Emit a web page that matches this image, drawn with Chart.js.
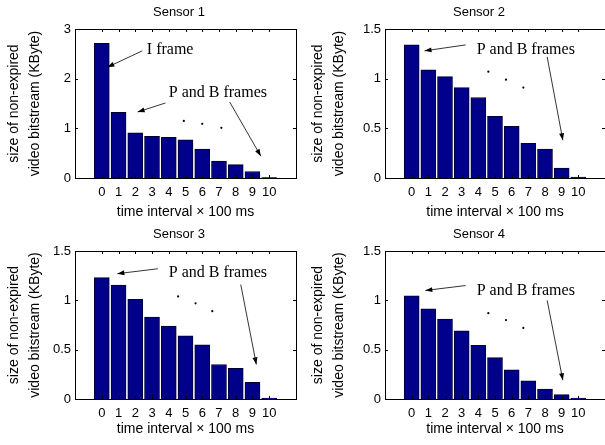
<!DOCTYPE html>
<html>
<head>
<meta charset="utf-8">
<script src="https://cdn.jsdelivr.net/npm/chart.js@4.4.0/dist/chart.umd.min.js"></script>
<style>
  html, body { margin: 0; padding: 0; background: #fff; overflow: hidden; }
  #wrap { position: relative; width: 605px; height: 445px; overflow: hidden; }
  canvas { position: absolute; }
</style>
</head>
<body>
<div id="wrap">
  <canvas id="s1" width="300" height="222" style="left:0px;top:0px"></canvas>
  <canvas id="s2" width="310" height="222" style="left:300px;top:0px"></canvas>
  <canvas id="s3" width="300" height="223" style="left:0px;top:222px"></canvas>
  <canvas id="s4" width="310" height="223" style="left:300px;top:222px"></canvas>
</div>
<script>
// time interval index (x 100 ms)
var steps = [0, 1, 2, 3, 4, 5, 6, 7, 8, 9, 10];

// size of non-expired video bitstream (KByte)
var sensor1 = [2.71, 1.32, 0.91, 0.84, 0.82, 0.77, 0.58, 0.34, 0.27, 0.13, 0.01];
var sensor2 = [1.34, 1.09, 1.02, 0.91, 0.81, 0.62, 0.52, 0.35, 0.29, 0.10, 0.01];
var sensor3 = [1.23, 1.155, 1.01, 0.83, 0.74, 0.64, 0.55, 0.35, 0.31, 0.17, 0.01];
var sensor4 = [1.045, 0.915, 0.81, 0.69, 0.545, 0.42, 0.295, 0.185, 0.10, 0.045, 0.01];

var yMax = [3, 1.5, 1.5, 1.5];
var yStep = [1, 0.5, 0.5, 0.5];
var titles = ['Sensor 1', 'Sensor 2', 'Sensor 3', 'Sensor 4'];

// annotations in data coordinates
var notes = [
  {
    texts: [['I frame', 2.69, 2.58], ['P and B frames', 4.0, 1.71]],
    arrows: [[2.42, 2.56, 0.33, 2.23], [3.8, 1.51, 2.14, 1.33], [7.64, 1.53, 9.5, 0.44]],
    dots: [[4.9, 1.15], [6.0, 1.09], [7.14, 1.01]]
  },
  {
    texts: [['P and B frames', 3.9, 1.29]],
    arrows: [[3.24, 1.34, 0.77, 1.28], [8.13, 1.22, 9.07, 0.38]],
    dots: [[4.6, 1.07], [5.66, 0.99], [6.7, 0.91]]
  },
  {
    texts: [['P and B frames', 4.0, 1.28]],
    arrows: [[3.35, 1.32, 0.93, 1.27], [8.3, 1.16, 9.23, 0.35]],
    dots: [[4.56, 1.04], [5.6, 0.97], [6.6, 0.89]]
  },
  {
    texts: [['P and B frames', 3.9, 1.10]],
    arrows: [[3.24, 1.15, 0.82, 1.10], [8.13, 1.0, 9.07, 0.19]],
    dots: [[4.6, 0.87], [5.66, 0.80], [6.7, 0.72]]
  }
];

// per panel layout
var panels = [
  { id: 's1', left: 75, padR: 4, xh: 44, xtb: 1.6, ytp: 3.5, titleX: 179 },
  { id: 's2', left: 85, padR: 5, xh: 44, xtb: 1.6, ytp: 7.5, titleX: 179 },
  { id: 's3', left: 75, padR: 4, xh: 46, xtb: 7.6, ytp: 3.5, titleX: 179 },
  { id: 's4', left: 85, padR: 5, xh: 46, xtb: 7.6, ytp: 7.5, titleX: 179 }
];

var sans = 'Liberation Sans, Arial, sans-serif';
var serif = 'Liberation Serif, Times New Roman, serif';

var boxPlugin = {
  id: 'box',
  afterDraw: function(chart) {
    var ctx = chart.ctx, a = chart.chartArea;
    var xs = chart.scales.x, ys = chart.scales.y;
    var n = chart.options.plugins.box;
    ctx.save();
    ctx.strokeStyle = '#000';
    ctx.lineWidth = 1;
    ctx.strokeRect(Math.round(a.left) + 0.5, Math.round(a.top) + 0.5,
      Math.round(a.right - a.left), Math.round(a.bottom - a.top));
    ctx.beginPath();
    xs.ticks.forEach(function(t) {
      var px = Math.round(xs.getPixelForValue(t.value)) + 0.5;
      ctx.moveTo(px, a.top); ctx.lineTo(px, a.top + 3);
      ctx.moveTo(px, a.bottom); ctx.lineTo(px, a.bottom - 3);
    });
    ys.ticks.forEach(function(t) {
      var py = Math.round(ys.getPixelForValue(t.value)) + 0.5;
      ctx.moveTo(a.left, py); ctx.lineTo(a.left + 3, py);
      ctx.moveTo(a.right, py); ctx.lineTo(a.right - 3, py);
    });
    ctx.stroke();

    // title
    ctx.fillStyle = '#000';
    ctx.font = '13px ' + sans;
    ctx.textAlign = 'center';
    ctx.textBaseline = 'middle';
    ctx.fillText(n.title, n.titleX, 12);

    // notes
    ctx.font = '16px ' + serif;
    ctx.textAlign = 'left';
    n.notes.texts.forEach(function(t) {
      ctx.fillText(t[0], xs.getPixelForValue(t[1]), ys.getPixelForValue(t[2]));
    });
    ctx.lineWidth = 0.8;
    n.notes.arrows.forEach(function(ar) {
      var x0 = xs.getPixelForValue(ar[0]), y0 = ys.getPixelForValue(ar[1]);
      var x1 = xs.getPixelForValue(ar[2]), y1 = ys.getPixelForValue(ar[3]);
      var ang = Math.atan2(y1 - y0, x1 - x0);
      ctx.beginPath();
      ctx.moveTo(x0, y0); ctx.lineTo(x1, y1);
      ctx.stroke();
      ctx.beginPath();
      ctx.moveTo(x1, y1);
      ctx.lineTo(x1 - 7 * Math.cos(ang) + 2.5 * Math.sin(ang), y1 - 7 * Math.sin(ang) - 2.5 * Math.cos(ang));
      ctx.lineTo(x1 - 7 * Math.cos(ang) - 2.5 * Math.sin(ang), y1 - 7 * Math.sin(ang) + 2.5 * Math.cos(ang));
      ctx.closePath();
      ctx.fill();
    });
    n.notes.dots.forEach(function(d) {
      ctx.beginPath();
      ctx.arc(xs.getPixelForValue(d[0]), ys.getPixelForValue(d[1]), 1.1, 0, Math.PI * 2);
      ctx.fill();
    });
    ctx.restore();
  }
};

var series = [sensor1, sensor2, sensor3, sensor4];

panels.forEach(function(p, i) {
  var pts = steps.map(function(s, k) { return { x: s, y: series[i][k] }; });
  var ctx = document.getElementById(p.id).getContext('2d');
  new Chart(ctx, {
    type: 'bar',
    data: {
      datasets: [{
        label: titles[i],
        data: pts,
        backgroundColor: '#00008a',
        borderColor: '#000033',
        borderWidth: 1,
        borderSkipped: 'start',
        barThickness: 15
      }]
    },
    options: {
      responsive: false,
      animation: false,
      layout: { padding: { left: 0, right: p.padR, top: 29, bottom: 0 } },
      plugins: {
        legend: { display: false },
        tooltip: { enabled: false },
        title: { display: false },
        box: { title: titles[i], titleX: p.titleX, notes: notes[i] }
      },
      scales: {
        x: {
          type: 'linear',
          min: -1,
          max: 11,
          grid: { display: false, drawTicks: false },
          border: { display: false },
          afterBuildTicks: function(s) {
            s.ticks = s.ticks.filter(function(t) { return t.value >= 0 && t.value <= 10; });
          },
          afterFit: function(s) { s.height = p.xh; },
          ticks: {
            stepSize: 1, autoSkip: false, maxRotation: 0, padding: 7,
            color: '#000', font: { family: sans, size: 13 }
          },
          title: {
            display: true, text: 'time interval \u00d7 100 ms', color: '#000',
            font: { family: sans, size: 14, lineHeight: 1.2 },
            padding: { top: 0, bottom: p.xtb }
          }
        },
        y: {
          min: 0,
          max: yMax[i],
          grid: { display: false, drawTicks: false },
          border: { display: false },
          afterFit: function(s) { s.width = p.left; },
          ticks: {
            stepSize: yStep[i], padding: 4, color: '#000',
            font: { family: sans, size: 13 },
            callback: function(v) { return String(v); }
          },
          title: {
            display: true, text: ['size of non-expired', 'video bitstream (KByte)'], color: '#000',
            font: { family: sans, size: 14, lineHeight: 1.5 },
            padding: { top: p.ytp, bottom: 0 }
          }
        }
      }
    },
    plugins: [boxPlugin]
  });
});
</script>
</body>
</html>
